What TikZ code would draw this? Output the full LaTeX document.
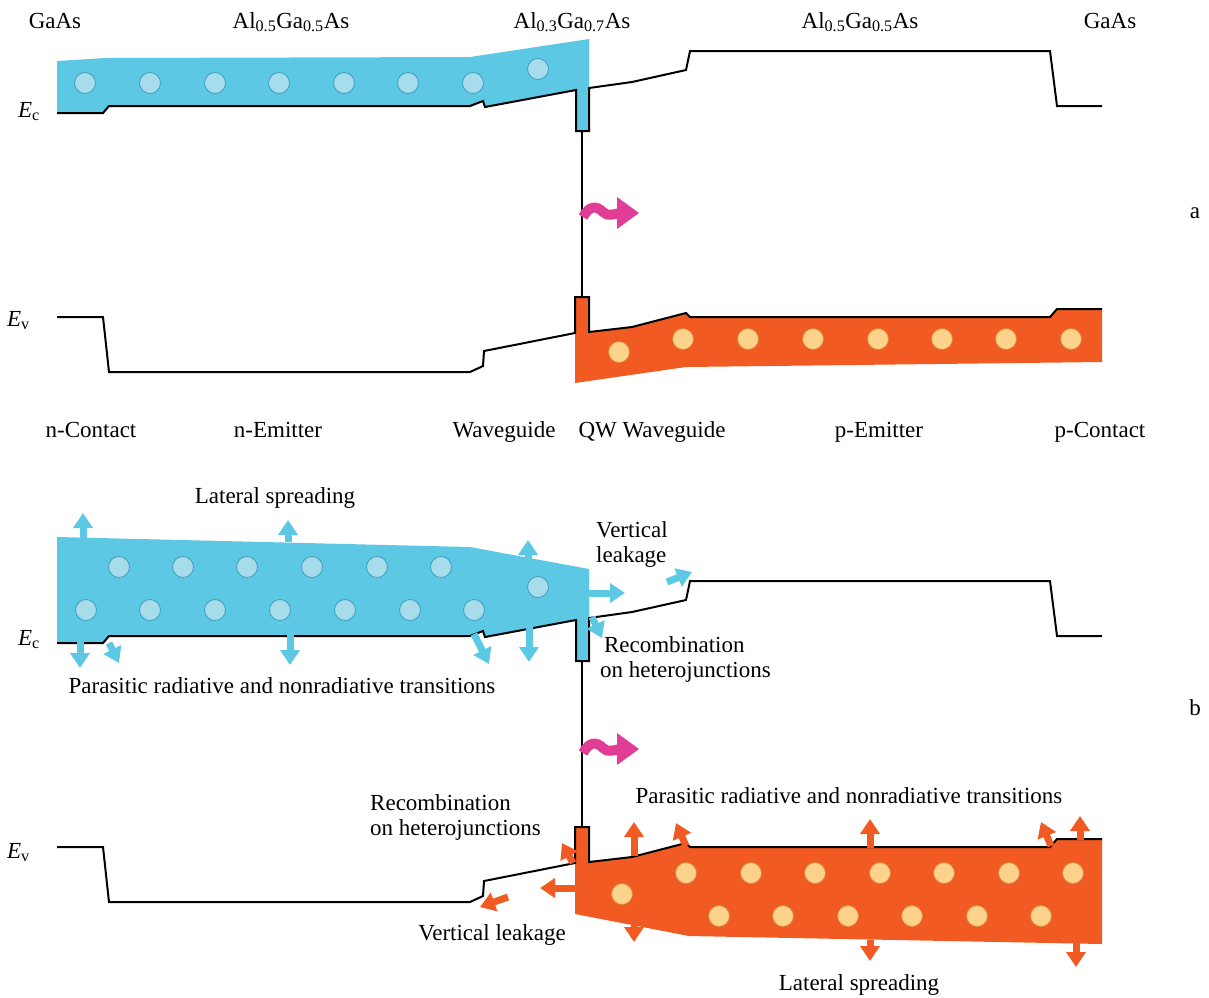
\documentclass[tikz,border=0pt]{standalone}
\usepackage{fontspec}
\setmainfont{Liberation Serif}
\usetikzlibrary{arrows.meta}
\definecolor{cband}{HTML}{5DC8E3}
\definecolor{vband}{HTML}{F15A22}
\definecolor{ecirc}{HTML}{A7DCEB}
\definecolor{eedge}{HTML}{3D9EBE}
\definecolor{hcirc}{HTML}{FDD38B}
\definecolor{hedge}{HTML}{D98A35}
\definecolor{photon}{HTML}{E23D96}

\begin{document}
\begin{tikzpicture}[x=1pt, y=-1pt,
    lbl/.style={font=\fontsize{23}{25}\selectfont, inner sep=0pt},
    band/.style={line width=2pt, black, line join=miter},
    elec/.style={fill=ecirc, draw=eedge, line width=0.8pt},
    hole/.style={fill=hcirc, draw=hedge, line width=0.8pt},
    earr/.style={-{Triangle[length=15pt, width=19pt]}, line width=7pt, cband},
    harr/.style={-{Triangle[length=15pt, width=19pt]}, line width=7pt, vband},
]
\useasboundingbox (0,0) rectangle (1209,997);

% === PANEL a: BAND FILLS ===
\fill[cband] (57,61) -- (105,58) -- (470,57) -- (589,39) -- (589,131) -- (576,131)
    -- (576,90) -- (485,107) -- (483,101) -- (470,106) -- (109,106) -- (103,113) -- (57,113) -- cycle;
\fill[vband] (575,297) -- (589,297) -- (589,332) -- (632,327) -- (686,313) -- (690,317)
    -- (1050,317) -- (1057,309) -- (1102,309) -- (1102,362) -- (686,367) -- (575,383) -- cycle;

% electrons and holes
\foreach \x in {85,150,215,279,344,408,473}
    \draw[elec] (\x,83) circle (10.5pt);
\draw[elec] (538,69) circle (10.5pt);
\draw[hole] (619,352) circle (10.5pt);
\foreach \x in {683,748,813,878,942,1006,1071}
    \draw[hole] (\x,339) circle (10.5pt);

% === PANEL b: BAND FILLS ===
\fill[cband] (57,537) -- (470,547) -- (589,569) -- (589,661) -- (576,661)
    -- (576,620) -- (485,637) -- (483,631) -- (470,636) -- (109,636) -- (103,643) -- (57,643) -- cycle;
\fill[vband] (575,827) -- (589,827) -- (589,862) -- (632,857) -- (686,843) -- (690,847)
    -- (1050,847) -- (1057,839) -- (1102,839) -- (1102,944) -- (689,936) -- (575,914) -- cycle;

\foreach \x in {119,183,247,312,377,441}
    \draw[elec] (\x,567) circle (10.5pt);
\foreach \x in {86,150,215,280,345,410,474}
    \draw[elec] (\x,610) circle (10.5pt);
\draw[elec] (538,587) circle (10.5pt);
\foreach \x in {686,751,815,880,944,1009,1073}
    \draw[hole] (\x,873) circle (10.5pt);
\foreach \x in {719,783,848,912,977,1041}
    \draw[hole] (\x,916) circle (10.5pt);
\draw[hole] (622,894) circle (10.5pt);

% === BAND EDGES (same in both panels) ===
\foreach \dy in {0,530}{
  \begin{scope}[shift={(0,\dy)}]
    \draw[band] (57,113) -- (103,113) -- (109,106) -- (470,106) -- (483,101) -- (485,107)
        -- (576,90) -- (576,131) -- (589,131) -- (589,88) -- (632,82) -- (686,70) -- (690,51)
        -- (1050,51) -- (1057,106) -- (1102,106);
    \draw[band] (57,317) -- (103,317) -- (109,372) -- (470,372) -- (483,366) -- (484,351)
        -- (575,333) -- (575,297) -- (589,297) -- (589,332) -- (632,327) -- (686,313) -- (690,317)
        -- (1050,317) -- (1057,309) -- (1102,309);
    \draw[line width=1.6pt] (582,131) -- (582,297);
  \end{scope}
}

% === PHOTONS ===
\foreach \y in {213,749}{
    \draw[photon, line width=10pt] (583,\y+4) .. controls (589,\y-7) and (596,\y-8) .. (603,\y-1)
        .. controls (608,\y+4) and (613,\y+1) .. (621,\y);
    \fill[photon] (617,\y-16) -- (639,\y) -- (617,\y+16) -- cycle;
}

% === LEAKAGE ARROWS, panel b ===
\draw[earr] (83,538) -- (83,513);
\draw[earr] (288,542) -- (288,520);
\draw[earr] (528,559) -- (528,540);
\draw[earr] (589,593) -- (625,593);
\draw[earr] (80,640) -- (80,668);
\draw[earr] (109,643) -- (119,663);
\draw[earr] (290,632) -- (290,665);
\draw[earr] (474,634) -- (489,664);
\draw[earr] (529,620) -- (529,662);
\draw[earr] (592,617) -- (602,638);
\draw[earr] (667,582) -- (692,572);

\draw[harr] (573,863) -- (562,843);
\draw[harr] (634,856) -- (634,822);
\draw[harr] (686,846) -- (676,823);
\draw[harr] (870,848) -- (870,819);
\draw[harr] (1051,846) -- (1041,822);
\draw[harr] (1080,840) -- (1080,816);
\draw[harr] (577,888) -- (540,888);
\draw[harr] (508,897) -- (480,907);
\draw[harr] (634,910) -- (634,942);
\draw[harr] (870,940) -- (870,961);
\draw[harr] (1076,943) -- (1076,967);

% === LABELS ===
\node[lbl, anchor=base] (gaas1) at (55,28) {GaAs};
\node[lbl, anchor=base] (emit1) at (291,28) {Al\textsubscript{0.5}Ga\textsubscript{0.5}As};
\node[lbl, anchor=base] (guide) at (572,28) {Al\textsubscript{0.3}Ga\textsubscript{0.7}As};
\node[lbl, anchor=base] (emit2) at (860,28) {Al\textsubscript{0.5}Ga\textsubscript{0.5}As};
\node[lbl, anchor=base] (gaas2) at (1110,28) {GaAs};

\node[lbl, anchor=base west] (eca) at (18,117) {\textit{E}\textsubscript{c}};
\node[lbl, anchor=base west] (eva) at (7,326) {\textit{E}\textsubscript{v}};
\node[lbl, anchor=base west] (ecb) at (18,645) {\textit{E}\textsubscript{c}};
\node[lbl, anchor=base west] (evb) at (7,858) {\textit{E}\textsubscript{v}};
\node[lbl, anchor=base] (pa) at (1195,218) {a};
\node[lbl, anchor=base] (pb) at (1195,715) {b};

\foreach \x/\txt [count=\i] in {91/n-Contact, 278/n-Emitter, 504/Waveguide,
    652/QW Waveguide, 879/p-Emitter, 1100/p-Contact}
    \node[lbl, anchor=base] (layer\i) at (\x,437) {\txt};

\node[lbl, anchor=base] (latup) at (275,503) {Lateral spreading};
\node[lbl, anchor=base] (paraup) at (282,693) {Parasitic radiative and nonradiative transitions};
\node[lbl, anchor=north west, align=left] (vleakup) at (596,521) {Vertical\\leakage};
\node[lbl, anchor=north west, align=left] (recup) at (600,636) {\,Recombination\\on heterojunctions};
\node[lbl, anchor=north west, align=left] (recdn) at (370,794) {Recombination\\on heterojunctions};
\node[lbl, anchor=base] (paradn) at (849,803) {Parasitic radiative and nonradiative transitions};
\node[lbl, anchor=base] (vleakdn) at (492,940) {Vertical leakage};
\node[lbl, anchor=base] (latdn) at (859,990) {Lateral spreading};

\end{tikzpicture}
\end{document}
